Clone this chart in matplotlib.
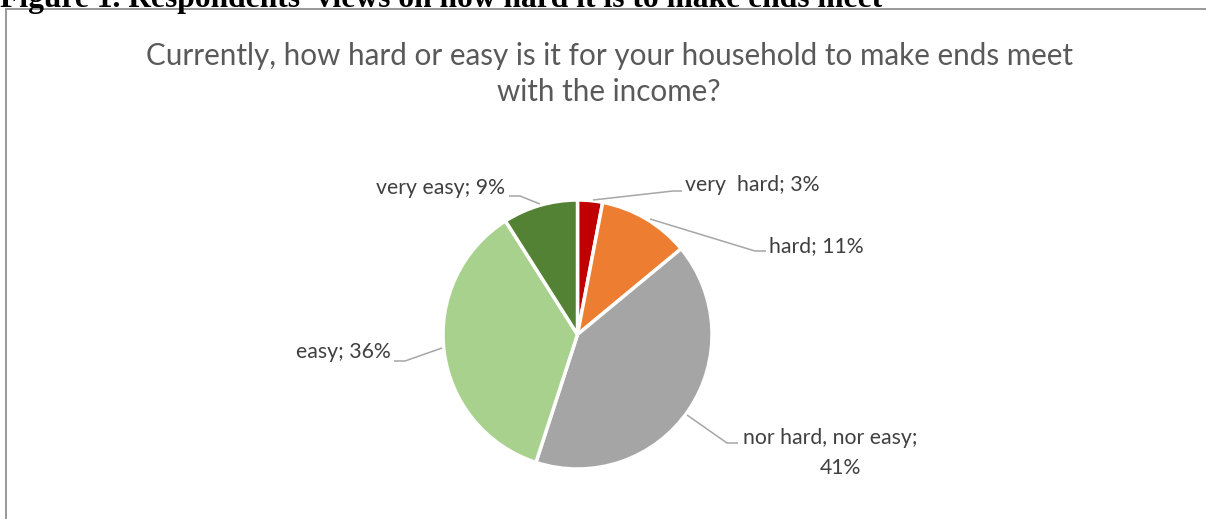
import matplotlib
matplotlib.use("Agg")
import matplotlib.pyplot as plt

# ---- data ----
categories = ["very  hard", "hard", "nor hard, nor easy", "easy", "very easy"]
values = [3, 11, 41, 36, 9]
colors = ["#C00000", "#ED7D31", "#A5A5A5", "#A9D18E", "#548235"]
chart_title = "Currently, how hard or easy is it for your household to make ends meet\nwith the income?"
doc_caption = "Figure 1. Respondents' views on how hard it is to make ends meet"

W, H = 1206, 519
fig = plt.figure(figsize=(W / 100, H / 100), dpi=100)
ax = fig.add_axes([0, 0, 1, 1])

def Y(py):
    return H - py

cx, cy, r = 577.5, 334.5, 134.5
wedges, _ = ax.pie(values, colors=colors, startangle=90, counterclock=False,
                   center=(cx, Y(cy)), radius=r,
                   wedgeprops=dict(edgecolor="white", linewidth=2.5))
ax.set_xlim(0, W)
ax.set_ylim(0, H)
ax.set_aspect("auto")
ax.axis("off")

font = ["Lato", "DejaVu Sans"]
lab_col = "#404040"
lead_col = "#A6A6A6"
lfs = 15.3

def pct(i):
    return f"{values[i]}%"

labels = [
    (f"{categories[0]}; {pct(0)}", 685, 191, "left", [(593, 200), (673, 191), (682, 191)]),
    (f"{categories[1]}; {pct(1)}", 769, 252, "left", [(650, 219), (755, 251), (766, 251)]),
    (f"{categories[2]};\n{pct(2)}", 840, 444, "center", [(687, 415), (727, 443), (738, 443)]),
    (f"{categories[3]}; {pct(3)}", 391, 358, "right", [(442, 348), (405, 361), (394, 361)]),
    (f"{categories[4]}; {pct(4)}", 505, 194, "right", [(540, 204), (520, 196), (509, 196)]),
]
for txt, x, y, ha, pts in labels:
    if "\n" in txt:
        l1, l2 = txt.split("\n")
        ax.text(743, Y(y), l1, ha="left", va="baseline", fontsize=lfs, color=lab_col, family=font)
        ax.text(x, Y(y + 30), l2, ha="center", va="baseline", fontsize=lfs, color=lab_col, family=font)
    else:
        ax.text(x, Y(y), txt, ha=ha, va="baseline", fontsize=lfs, color=lab_col, family=font)
    xs = [p[0] for p in pts]
    ys = [Y(p[1]) for p in pts]
    ax.plot(xs, ys, color=lead_col, lw=1.1, solid_capstyle="butt")

# chart title
t1, t2 = chart_title.split("\n")
ax.text(609, Y(65), t1, ha="center", va="baseline", fontsize=21.3, color="#595959", family=font)
ax.text(609, Y(101), t2, ha="center", va="baseline", fontsize=21.3, color="#595959", family=font)

# document caption (cut off at top)
ax.text(0, Y(7), doc_caption, ha="left", va="baseline", fontsize=22.7, fontweight="bold",
        color="black", family=["Liberation Serif", "DejaVu Serif"])

# chart border (top and left)
ax.plot([6, W], [Y(9), Y(9)], color="#999999", lw=1.4, clip_on=False)
ax.plot([6, 6], [Y(9), 0], color="#999999", lw=1.4, clip_on=False)

fig.savefig("out.png", dpi=100)
